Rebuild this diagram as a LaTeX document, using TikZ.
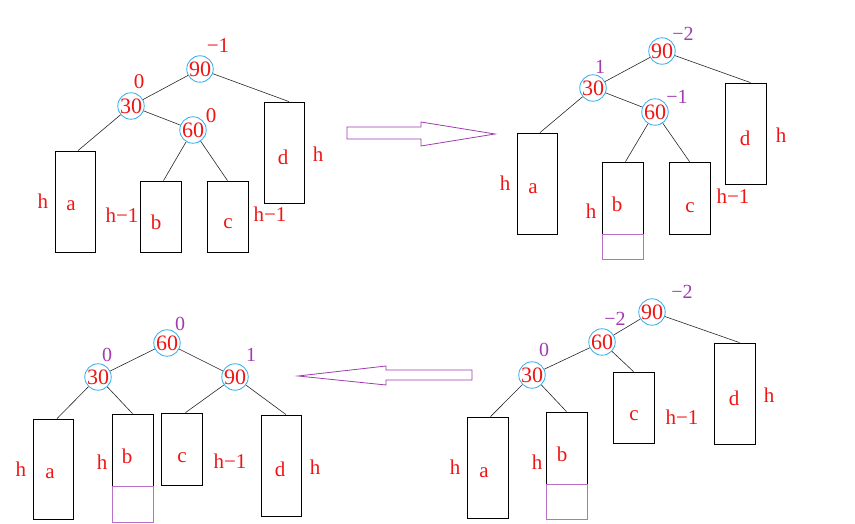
\documentclass[tikz,border=0pt]{standalone}
\usepackage{fontspec}
\setmainfont{Liberation Serif}
\definecolor{cblue}{RGB}{40,170,235}
\definecolor{tred}{RGB}{240,20,20}
\definecolor{bpur}{RGB}{160,60,175}
\definecolor{lpur}{RGB}{185,110,200}
\tikzset{
  circ/.style={circle,draw=cblue,line width=0.8pt,minimum size=25pt,inner sep=0pt,text=tred,font=\fontsize{22}{22}\selectfont},
  box/.style={rectangle,draw=black,line width=0.8pt,inner sep=0pt},
  ext/.style={rectangle,draw=lpur,line width=0.8pt,inner sep=0pt},
  lbl/.style={text=tred,inner sep=0pt,font=\fontsize{21}{21}\selectfont},
  bal/.style={text=bpur,inner sep=0pt,font=\fontsize{20}{20}\selectfont},
  edge/.style={draw=black!85,line width=0.6pt},
  bigarrow/.style={draw=bpur,line width=0.8pt}
}
\begin{document}
\begin{tikzpicture}[x=1pt,y=-1pt]
\useasboundingbox (0,0) rectangle (855,524);
% ---------- top-left tree ----------
\node[circ] (tl90) at (200,69) {90};
\node[circ] (tl30) at (131,106) {30};
\node[circ] (tl60) at (193,130) {60};
\node[lbl] (tl90b) at (218,46) {−1};
\node[lbl] (tl30b) at (139,82) {0};
\node[lbl] (tl60b) at (211,116) {0};
\node[box,minimum width=40,minimum height=101] (tla) at (75,201.5) {};
\node[box,minimum width=41,minimum height=71] (tlb) at (160.5,216.5) {};
\node[box,minimum width=41,minimum height=71] (tlc) at (227.5,216.5) {};
\node[box,minimum width=40,minimum height=101] (tld) at (284,152.5) {};
\node[lbl] (tlat) at (71,206) {a};
\node[lbl] (tlbt) at (156,222) {b};
\node[lbl] (tlct) at (228,224) {c};
\node[lbl] (tldt) at (283,157) {d};
\node[lbl] (tlah) at (43,201) {h};
\node[lbl] (tlbh) at (122,215) {h−1};
\node[lbl] (tlch) at (270,214) {h−1};
\node[lbl] (tldh) at (318,154) {h};
\draw[edge] (tl90) -- (tl30);
\draw[edge] (tl90) -- ([xshift=5pt]tld.north);
\draw[edge] (tl30) -- ([xshift=3pt]tla.north);
\draw[edge] (tl30) -- (tl60);
\draw[edge] (tl60) -- ([xshift=3pt]tlb.north);
\draw[edge] (tl60) -- (tlc.north);
% ---------- arrow right ----------
\draw[bigarrow] (347,127) -- (421,127) -- (421,122) -- (495,134) -- (421,146) -- (421,139) -- (347,139) -- cycle;
% ---------- top-right tree ----------
\node[circ] (tr90) at (662,51) {90};
\node[circ] (tr30) at (593,88) {30};
\node[circ] (tr60) at (655,112) {60};
\node[bal] (tr90b) at (683,34) {−2};
\node[bal] (tr30b) at (600,67) {1};
\node[bal] (tr60b) at (677,97) {−1};
\node[box,minimum width=40,minimum height=101] (tra) at (537,183.5) {};
\node[box,minimum width=41,minimum height=72] (trb) at (622.5,198) {};
\node[ext,minimum width=41,minimum height=25] (trx) at (622.5,246.5) {};
\node[box,minimum width=41,minimum height=72] (trc) at (689.5,198) {};
\node[box,minimum width=41,minimum height=101] (trd) at (745.5,133.5) {};
\node[lbl] (trat) at (533,189) {a};
\node[lbl] (trbt) at (617,204) {b};
\node[lbl] (trct) at (690,208) {c};
\node[lbl] (trdt) at (745,138) {d};
\node[lbl] (trah) at (505,183) {h};
\node[lbl] (trbh) at (591,211) {h};
\node[lbl] (trch) at (733,196) {h−1};
\node[lbl] (trdh) at (781,135) {h};
\draw[edge] (tr90) -- (tr30);
\draw[edge] (tr90) -- ([xshift=5pt]trd.north);
\draw[edge] (tr30) -- ([xshift=3pt]tra.north);
\draw[edge] (tr30) -- (tr60);
\draw[edge] (tr60) -- ([xshift=3pt]trb.north);
\draw[edge] (tr60) -- (trc.north);
% ---------- arrow left ----------
\draw[bigarrow] (298,376) -- (386,366) -- (386,370) -- (472,370) -- (472,380) -- (386,380) -- (386,385) -- cycle;
% ---------- bottom-left tree ----------
\node[circ] (bl60) at (167,343) {60};
\node[circ] (bl30) at (98,377) {30};
\node[circ] (bl90) at (235,377) {90};
\node[bal] (bl60b) at (180,324) {0};
\node[bal] (bl30b) at (107,355) {0};
\node[bal] (bl90b) at (251,355) {1};
\node[box,minimum width=40,minimum height=100] (bla) at (53,469) {};
\node[box,minimum width=41,minimum height=72] (blb) at (132.5,450) {};
\node[ext,minimum width=41,minimum height=36] (blx) at (132.5,504) {};
\node[box,minimum width=41,minimum height=72] (blc) at (181.5,449) {};
\node[box,minimum width=40,minimum height=101] (bld) at (281,465.5) {};
\node[lbl] (blat) at (50,474) {a};
\node[lbl] (blbt) at (127,456) {b};
\node[lbl] (blct) at (182,458) {c};
\node[lbl] (bldt) at (280,469) {d};
\node[lbl] (blah) at (21,469) {h};
\node[lbl] (blbh) at (102,462) {h};
\node[lbl] (blch) at (230,461) {h−1};
\node[lbl] (bldh) at (315,467) {h};
\draw[edge] (bl60) -- (bl30);
\draw[edge] (bl60) -- (bl90);
\draw[edge] (bl30) -- ([xshift=4pt]bla.north);
\draw[edge] (bl30) -- (blb.north);
\draw[edge] (bl90) -- ([xshift=4pt]blc.north);
\draw[edge] (bl90) -- ([xshift=5pt]bld.north);
% ---------- bottom-right tree ----------
\node[circ] (br90) at (652,312) {90};
\node[circ] (br60) at (602,342) {60};
\node[circ] (br30) at (532,375) {30};
\node[bal] (br90b) at (682,292) {−2};
\node[bal] (br60b) at (615,319) {−2};
\node[bal] (br30b) at (544,350) {0};
\node[box,minimum width=41,minimum height=101] (bra) at (487.5,467.5) {};
\node[box,minimum width=41,minimum height=72] (brb) at (566.5,448) {};
\node[ext,minimum width=41,minimum height=35] (brx) at (566.5,501.5) {};
\node[box,minimum width=41,minimum height=71] (brc) at (633.5,407.5) {};
\node[box,minimum width=41,minimum height=101] (brd) at (734.5,393.5) {};
\node[lbl] (brat) at (484,473) {a};
\node[lbl] (brbt) at (562,454) {b};
\node[lbl] (brct) at (634,416) {c};
\node[lbl] (brdt) at (734,398) {d};
\node[lbl] (brah) at (455,467) {h};
\node[lbl] (brbh) at (537,462) {h};
\node[lbl] (brch) at (682,417) {h−1};
\node[lbl] (brdh) at (769,395) {h};
\draw[edge] (br90) -- (br60);
\draw[edge] (br90) -- ([xshift=5pt]brd.north);
\draw[edge] (br60) -- (br30);
\draw[edge] (br60) -- (brc.north);
\draw[edge] (br30) -- ([xshift=3pt]bra.north);
\draw[edge] (br30) -- (brb.north);
\end{tikzpicture}
\end{document}
